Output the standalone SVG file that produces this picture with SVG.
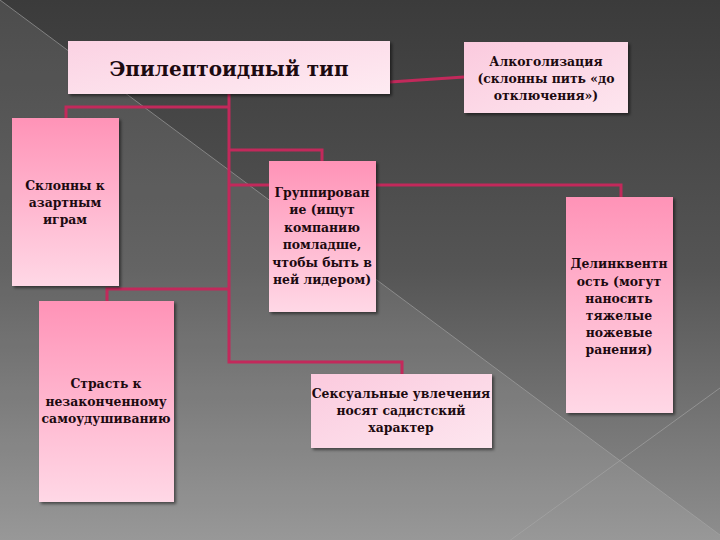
<svg xmlns="http://www.w3.org/2000/svg" width="720" height="540" viewBox="0 0 720 540">
<defs>
<linearGradient id="bg" x1="0" y1="0" x2="0" y2="1">
<stop offset="0" stop-color="#3b3b3b"/>
<stop offset="0.5" stop-color="#555555"/>
<stop offset="1" stop-color="#8e8e8e"/>
</linearGradient>
<linearGradient id="tall" x1="0" y1="0" x2="0" y2="1">
<stop offset="0" stop-color="#ff93b7"/>
<stop offset="1" stop-color="#ffd8e6"/>
</linearGradient>
<linearGradient id="light" x1="0" y1="0" x2="1" y2="1">
<stop offset="0" stop-color="#fbcade"/>
<stop offset="1" stop-color="#fde6ef"/>
</linearGradient>
<linearGradient id="lighter" x1="0" y1="0" x2="1" y2="1">
<stop offset="0" stop-color="#fbd2e3"/>
<stop offset="1" stop-color="#feebf2"/>
</linearGradient>
<filter id="sh" x="-10%" y="-10%" width="125%" height="125%">
<feDropShadow dx="2" dy="2" stdDeviation="1.5" flood-color="#000" flood-opacity="0.5"/>
</filter>
</defs>
<style>
.box{filter:url(#sh)}
.t{font-family:"DejaVu Serif","Liberation Serif",serif;font-weight:bold;font-size:12.4px;fill:#1c0a10;text-anchor:middle}
.title{font-family:"DejaVu Serif","Liberation Serif",serif;font-weight:bold;font-size:20px;fill:#1c0a10;text-anchor:middle}
.c{fill:none;stroke:#c2295b;stroke-width:3}
.deco{stroke:#a8a8a8;stroke-width:1;stroke-opacity:0.6}
</style>
<rect width="720" height="540" fill="url(#bg)"/>
<polygon points="0,0 720,535 720,540 0,540" fill="#ffffff" fill-opacity="0.09"/>
<line class="deco" x1="0" y1="0" x2="720" y2="535"/>
<line class="deco" x1="505" y1="544" x2="720" y2="388"/>

<g id="connectors">
<polyline class="c" points="229,94 229,362 402,362 402,374"/>
<polyline class="c" points="229,107 66,107 66,118"/>
<polyline class="c" points="229,150 322,150 322,161"/>
<polyline class="c" points="229,185 621,185 621,197"/>
<polyline class="c" points="229,289 107,289 107,301"/>
<line class="c" x1="390" y1="82" x2="464" y2="77"/>
</g>

<g id="epileptoid">
<rect class="box" x="68" y="41" width="322" height="53" fill="url(#lighter)"/>
<text class="title" x="229" y="76">Эпилептоидный тип</text>
</g>

<g id="alcohol">
<rect class="box" x="464" y="42" width="164" height="71" fill="url(#light)"/>
<text class="t" x="546" y="66">Алкоголизация</text>
<text class="t" x="546" y="83">(склонны пить «до</text>
<text class="t" x="546" y="100">отключения»)</text>
</g>

<g id="gambling">
<rect class="box" x="12" y="118" width="107" height="168" fill="url(#tall)"/>
<text class="t" x="65" y="190">Склонны к</text>
<text class="t" x="65" y="207">азартным</text>
<text class="t" x="65" y="224">играм</text>
</g>

<g id="grouping">
<rect class="box" x="269" y="161" width="107" height="151" fill="url(#tall)"/>
<text class="t" x="322" y="197">Группирован</text>
<text class="t" x="322" y="214">ие (ищут</text>
<text class="t" x="322" y="232">компанию</text>
<text class="t" x="322" y="249">помладше,</text>
<text class="t" x="322" y="267">чтобы быть в</text>
<text class="t" x="322" y="284">ней лидером)</text>
</g>

<g id="delinquency">
<rect class="box" x="566" y="197" width="107" height="216" fill="url(#tall)"/>
<text class="t" x="619" y="268">Делинквентн</text>
<text class="t" x="619" y="286">ость (могут</text>
<text class="t" x="619" y="303">наносить</text>
<text class="t" x="619" y="320">тяжелые</text>
<text class="t" x="619" y="337">ножевые</text>
<text class="t" x="619" y="354">ранения)</text>
</g>

<g id="passion">
<rect class="box" x="39" y="301" width="135" height="201" fill="url(#tall)"/>
<text class="t" x="106" y="388">Страсть к</text>
<text class="t" x="106" y="406">незаконченному</text>
<text class="t" x="106" y="423">самоудушиванию</text>
</g>

<g id="sexual">
<rect class="box" x="311" y="374" width="181" height="74" fill="url(#light)"/>
<text class="t" x="401" y="398">Сексуальные увлечения</text>
<text class="t" x="401" y="415">носят садистский</text>
<text class="t" x="401" y="432">характер</text>
</g>
</svg>
